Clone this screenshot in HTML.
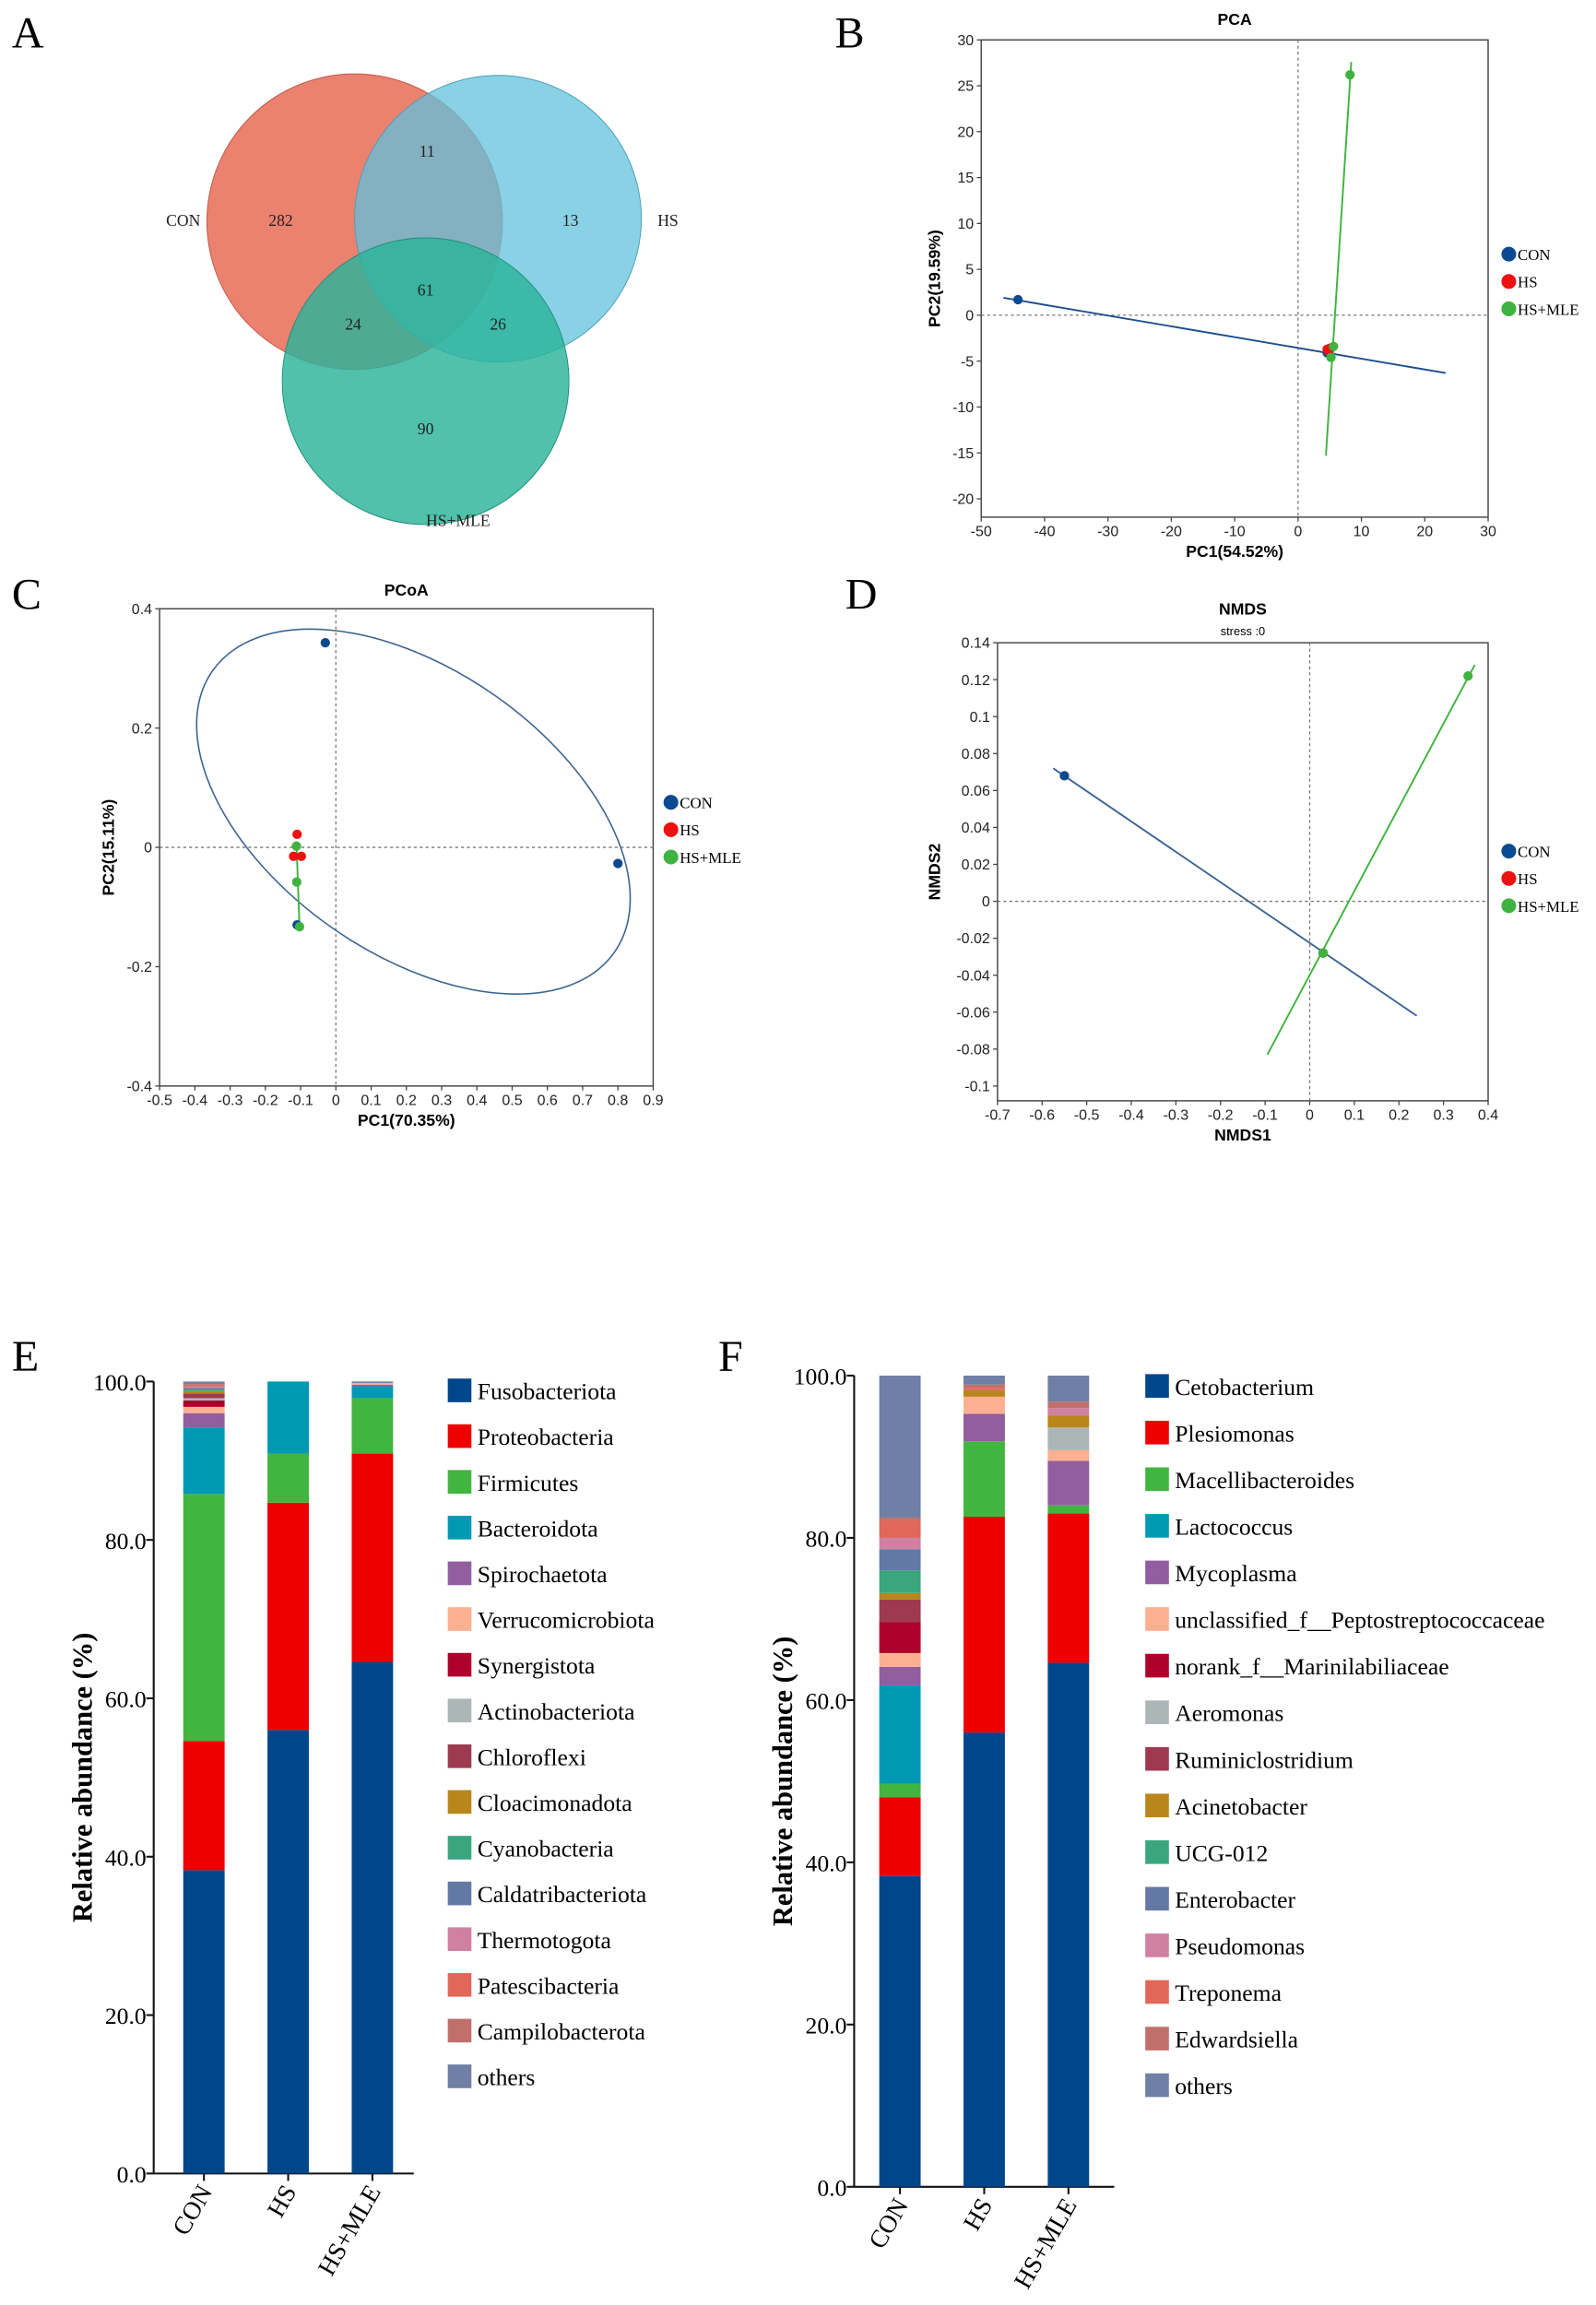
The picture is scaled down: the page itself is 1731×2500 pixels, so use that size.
<!DOCTYPE html>
<html><head><meta charset="utf-8"><style>
html,body{margin:0;padding:0;background:#fff}
svg{display:block}
.s{font-family:"Liberation Serif",serif}
.a{font-family:"Liberation Sans",sans-serif}
</style></head><body>
<svg id="fig" width="1731" height="2500" viewBox="0 0 1080 1560" preserveAspectRatio="none" xmlns="http://www.w3.org/2000/svg">
<rect width="1080" height="1560" fill="#fff"/>
<g id="panelA">
<text class="s" x="8" y="32" font-size="30">A</text>
<circle cx="240" cy="150" r="100" fill="#e9735f" fill-opacity="0.9" stroke="#c05a4a" stroke-width="0.6"/>
<circle cx="337" cy="148" r="97" fill="#62c1dc" fill-opacity="0.75" stroke="#4aa0b8" stroke-width="0.6"/>
<circle cx="288" cy="258" r="97" fill="#2bb39a" fill-opacity="0.82" stroke="#1e8f7a" stroke-width="0.6"/>
<g class="s" font-size="11" fill="#222" text-anchor="middle">
<text x="289" y="106">11</text>
<text x="190" y="153">282</text>
<text x="386" y="153">13</text>
<text x="288" y="200">61</text>
<text x="239" y="223">24</text>
<text x="337" y="223">26</text>
<text x="288" y="294">90</text>
<text x="124" y="153">CON</text>
<text x="452" y="153">HS</text>
<text x="310" y="356">HS+MLE</text>
</g>
</g>
<g id="panelB"><text class="s" x="565" y="32" font-size="30">B</text></g>
<g id="panelC"><text class="s" x="8" y="412" font-size="30">C</text></g>
<g id="panelD"><text class="s" x="572" y="412" font-size="30">D</text></g>
<g id="panelE"><text class="s" x="8" y="928" font-size="30">E</text></g>
<g id="panelF"><text class="s" x="486" y="928" font-size="30">F</text></g>
</svg>
<script>
// ---------- data ----------
const groups = ["CON","HS","HS+MLE"];
const groupColors = ["#0b4a8f","#ee1111","#3fb33f"];
// PCA
const pcaXTicks = [-50,-40,-30,-20,-10,0,10,20,30];
const pcaYTicks = [30,25,20,15,10,5,0,-5,-10,-15,-20];
const pcaCON = [[-44.2,1.7],[4.6,-4.1],[4.9,-3.9]];
const pcaHS = [[4.6,-3.7],[5.0,-3.6],[4.8,-3.9]];
const pcaMLE = [[8.2,26.2],[5.6,-3.4],[5.2,-4.6]];
const pcaLineCON = [[-46.5,1.9],[23.3,-6.3]];
const pcaLineMLE = [[8.4,27.6],[4.4,-15.3]];
// PCoA
const pcoaXTicks = [-0.5,-0.4,-0.3,-0.2,-0.1,0,0.1,0.2,0.3,0.4,0.5,0.6,0.7,0.8,0.9];
const pcoaYTicks = [0.4,0.2,0,-0.2,-0.4];
const pcoaCON = [[-0.03,0.343],[0.80,-0.027],[-0.11,-0.13]];
const pcoaHS = [[-0.11,0.022],[-0.12,-0.015],[-0.098,-0.015]];
const pcoaMLE = [[-0.112,0.002],[-0.111,-0.058],[-0.103,-0.133]];
const pcoaLineMLE = [[-0.112,0.01],[-0.103,-0.135]];
const pcoaEllipse = [0.22,0.06];
// NMDS
const nmdsXTicks = [-0.7,-0.6,-0.5,-0.4,-0.3,-0.2,-0.1,0,0.1,0.2,0.3,0.4];
const nmdsYTicks = [0.14,0.12,0.1,0.08,0.06,0.04,0.02,0,-0.02,-0.04,-0.06,-0.08,-0.1];
const nmdsCON = [[-0.55,0.068],[0.03,-0.028]];
const nmdsHS = [[0.03,-0.028]];
const nmdsMLE = [[0.355,0.122],[0.03,-0.028]];
const nmdsLineCON = [[-0.575,0.072],[0.24,-0.062]];
const nmdsLineMLE = [[-0.095,-0.083],[0.37,0.128]];
// Bars
const barTicks = [0,20,40,60,80,100];
const palette = ["#00468b","#ed0000","#42b540","#0099b4","#925e9f","#fdaf91","#ad002a","#adb6b6","#9e3a4f","#b8861b","#3aa680","#6478a6","#d080a0","#e0675a","#c0706a","#6f7fa5"];
const phylaNames = ["Fusobacteriota","Proteobacteria","Firmicutes","Bacteroidota","Spirochaetota","Verrucomicrobiota","Synergistota","Actinobacteriota","Chloroflexi","Cloacimonadota","Cyanobacteria","Caldatribacteriota","Thermotogota","Patescibacteria","Campilobacterota","others"];
const phylaCON = [38.3,16.3,31.2,8.4,1.8,0.8,0.8,0.3,0.6,0.3,0.2,0.2,0.2,0.2,0.1,0.3];
const phylaHS = [56.0,28.7,6.2,9.1,0,0,0,0,0,0,0,0,0,0,0,0];
const phylaMLE = [64.6,26.3,7.0,1.5,0.2,0.2,0,0,0,0,0,0,0,0,0,0.2];
const genusNames = ["Cetobacterium","Plesiomonas","Macellibacteroides","Lactococcus","Mycoplasma","unclassified_f__Peptostreptococcaceae","norank_f__Marinilabiliaceae","Aeromonas","Ruminiclostridium","Acinetobacter","UCG-012","Enterobacter","Pseudomonas","Treponema","Edwardsiella","others"];
const genusCON = [38.3,9.7,1.7,12.1,2.3,1.7,3.8,0,2.8,0.8,2.8,2.6,1.4,2.2,0.3,17.5];
const genusHS = [56.0,26.6,9.3,0,3.4,2.1,0,0,0,0.8,0,0,0,0.3,0.4,1.1];
const genusMLE = [64.6,18.4,1.0,0,5.5,1.3,0,2.8,0,1.5,0,0,0.9,0,0.8,3.2];

// ---------- helpers ----------
const NS="http://www.w3.org/2000/svg";
function mk(tag,attrs,parent,txt){const e=document.createElementNS(NS,tag);for(const k in attrs)e.setAttribute(k,attrs[k]);if(txt!==undefined)e.textContent=txt;parent.appendChild(e);return e;}
function lin(d0,d1,r0,r1){return v=>r0+(v-d0)*(r1-r0)/(d1-d0);}
function fmt(v){return String(Math.round(v*100)/100);}

function scatter(cfg){
  const g=document.getElementById(cfg.id);
  const X=lin(cfg.xd[0],cfg.xd[1],cfg.box[0],cfg.box[2]);
  const Y=lin(cfg.yd[0],cfg.yd[1],cfg.box[3],cfg.box[1]);
  const [x0,y0,x1,y1]=cfg.box;
  const fr=mk('rect',{x:x0,y:y0,width:x1-x0,height:y1-y0,fill:'none',stroke:'#444','stroke-width':0.9},g);
  
  
  const vz=mk('line',{x1:X(0),x2:X(0),y1:y0,y2:y1,stroke:'#777','stroke-width':0.8,'stroke-dasharray':'2,2'},g);
  
  
  const hz=mk('line',{x1:x0,x2:x1,y1:Y(0),y2:Y(0),stroke:'#777','stroke-width':0.8,'stroke-dasharray':'2,2'},g);
  
  
  cfg.xt.forEach(v=>{
    mk('line',{x1:X(v),x2:X(v),y1:y1,y2:y1+3,stroke:'#444','stroke-width':0.8},g);
    const t=mk('text',{x:X(v),y:y1+13,'font-size':10,'text-anchor':'middle',class:'a',fill:'#222'},g,fmt(v));
    
    
  });
  cfg.yt.forEach(v=>{
    mk('line',{x1:x0-3,x2:x0,y1:Y(v),y2:Y(v),stroke:'#444','stroke-width':0.8},g);
    const t=mk('text',{x:x0-5,y:Y(v)+3.5,'font-size':10,'text-anchor':'end',class:'a',fill:'#222'},g,fmt(v));
    
    
  });
  const tt=mk('text',{x:(x0+x1)/2,y:cfg.titleY,'font-size':11,'font-weight':'bold','text-anchor':'middle',class:'a'},g,cfg.title);
  
  
  if(cfg.sub){const st=mk('text',{x:(x0+x1)/2,y:cfg.titleY+14,'font-size':8,'text-anchor':'middle',class:'a'},g,cfg.sub);
    
    }
  const xl=mk('text',{x:(x0+x1)/2,y:y1+27,'font-size':11,'font-weight':'bold','text-anchor':'middle',class:'a'},g,cfg.xlab);
  
  
  const yl=mk('text',{x:0,y:0,'font-size':11,'font-weight':'bold','text-anchor':'middle',class:'a',transform:`translate(${cfg.ylx},${(y0+y1)/2}) rotate(-90)`},g,cfg.ylab);
  
  
  if(cfg.ellipse){const e=mk('ellipse',{cx:X(cfg.ellipse[0]),cy:Y(cfg.ellipse[1]),rx:cfg.erx,ry:cfg.ery,transform:`rotate(35 ${X(cfg.ellipse[0])} ${Y(cfg.ellipse[1])})`,fill:'none',stroke:'#3c6590','stroke-width':1},g);
    
    }
  cfg.lines.forEach(([pts,c])=>{const l=mk('line',{x1:X(pts[0][0]),y1:Y(pts[0][1]),x2:X(pts[1][0]),y2:Y(pts[1][1]),stroke:c,'stroke-width':1.2},g);
    
    });
  [cfg.con,cfg.hs,cfg.mle].forEach((pts,i)=>pts.forEach(p=>{const c=mk('circle',{cx:X(p[0]),cy:Y(p[1]),r:3.2,fill:groupColors[i]},g);
    
    }));
  groups.forEach((n,i)=>{
    const c=mk('circle',{cx:cfg.lx,cy:cfg.ly+i*18.5,r:5,fill:groupColors[i]},g);
    
    
    const t=mk('text',{x:cfg.lx+6,y:cfg.ly+i*18.5+4,'font-size':10.5,class:'s'},g,n);
    
    
  });
}

scatter({id:'panelB',box:[664,27,1007,350],xd:[-50,30],yd:[-22,30],xt:pcaXTicks,yt:pcaYTicks,title:'PCA',titleY:17,xlab:'PC1(54.52%)',ylab:'PC2(19.59%)',ylx:636,con:pcaCON,hs:pcaHS,mle:pcaMLE,lines:[[pcaLineCON,'#1d4f8c'],[pcaLineMLE,'#3fb33f']],lx:1021,ly:172});
scatter({id:'panelC',box:[108,412,442,735],xd:[-0.5,0.9],yd:[-0.4,0.4],xt:pcoaXTicks,yt:pcoaYTicks,title:'PCoA',titleY:403,xlab:'PC1(70.35%)',ylab:'PC2(15.11%)',ylx:77,con:pcoaCON,hs:pcoaHS,mle:pcoaMLE,lines:[[pcoaLineMLE,'#3fb33f']],ellipse:pcoaEllipse,erx:166,ery:96,lx:454,ly:543});
scatter({id:'panelD',box:[675,435,1007,745],xd:[-0.7,0.4],yd:[-0.108,0.14],xt:nmdsXTicks,yt:nmdsYTicks,title:'NMDS',titleY:416,sub:'stress :0',xlab:'NMDS1',ylab:'NMDS2',ylx:636,con:nmdsCON,hs:nmdsHS,mle:nmdsMLE,lines:[[nmdsLineCON,'#3c6590'],[nmdsLineMLE,'#3fb33f']],lx:1021,ly:576});

function bars(cfg){
  const g=document.getElementById(cfg.id);
  const Y=lin(0,100,cfg.y0,cfg.y100);
  mk('line',{x1:cfg.ax,x2:cfg.ax,y1:cfg.y100,y2:cfg.y0,stroke:'#111','stroke-width':1.3},g);
  mk('line',{x1:cfg.ax,x2:cfg.ax+176,y1:cfg.y0,y2:cfg.y0,stroke:'#111','stroke-width':1.3},g);
  barTicks.forEach(v=>{
    mk('line',{x1:cfg.ax-5,x2:cfg.ax,y1:Y(v),y2:Y(v),stroke:'#111','stroke-width':1.3},g);
    const t=mk('text',{x:cfg.ax-5,y:Y(v)+6,'font-size':16,'text-anchor':'end',class:'s'},g,v.toFixed(1));
    
    
  });
  const yl=mk('text',{x:0,y:0,'font-size':19,'font-weight':'bold','text-anchor':'middle',class:'s',transform:`translate(${cfg.ax-42},${(cfg.y0+cfg.y100)/2}) rotate(-90)`},g,'Relative abundance (%)');
  
  
  cfg.series.forEach((vals,gi)=>{
    const bx=cfg.bx+gi*cfg.step;let acc=0;
    mk('line',{x1:bx+14,x2:bx+14,y1:cfg.y0,y2:cfg.y0+5,stroke:'#111','stroke-width':1.3},g);
    vals.forEach((v,k)=>{
      if(v<=0)return;
      const r=mk('rect',{x:bx,y:Y(acc+v),width:28,height:Y(acc)-Y(acc+v),fill:palette[k]},g);
      
      
      acc+=v;
    });
    const t=mk('text',{x:0,y:0,'font-size':17,'text-anchor':'end',class:'s',transform:`translate(${bx+20},${cfg.y0+12}) rotate(-60)`},g,groups[gi]);
    
    
  });
  cfg.names.forEach((n,k)=>{
    const yy=cfg.ly+k*cfg.lstep;
    const r=mk('rect',{x:cfg.lx,y:yy-8,width:16,height:16,fill:palette[k]},g);
    
    
    const t=mk('text',{x:cfg.lx+20,y:yy+6,'font-size':16,class:'s'},g,n);
    
    
  });
}
bars({id:'panelE',ax:104,y0:1471,y100:935,bx:124,step:57,series:[phylaCON,phylaHS,phylaMLE],names:phylaNames,lx:303,ly:941,lstep:30.95});
bars({id:'panelF',ax:578,y0:1480,y100:931,bx:595,step:57,series:[genusCON,genusHS,genusMLE],names:genusNames,lx:775,ly:938,lstep:31.55});
</script>
</body></html>
